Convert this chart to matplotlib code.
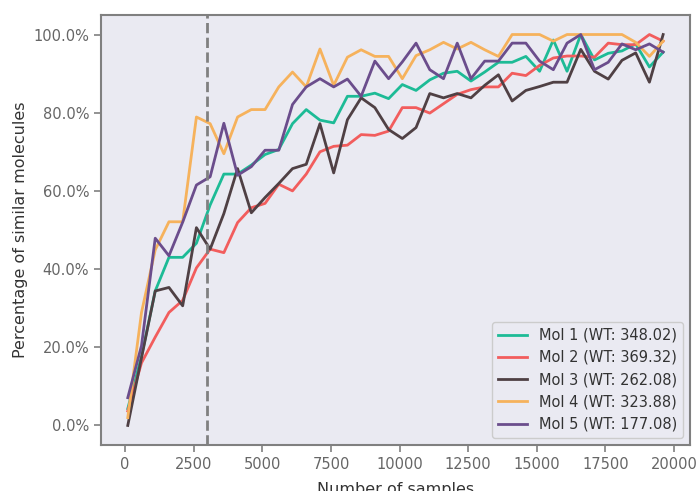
import numpy as np
import matplotlib
matplotlib.use('Agg')
import matplotlib.pyplot as plt
from matplotlib.ticker import PercentFormatter

# sample counts (x axis)
samples = np.arange(100, 20000, 500)

# percentage of similar molecules per molecule (in %)
mol1 = [4.3, 17.7, 34.4, 43.0, 43.0, 46.6, 56.4, 64.3, 64.3, 66.6, 69.3, 70.6, 77.2, 80.8, 78.1, 77.4, 84.2, 84.2, 85.0, 83.6,
        87.2, 85.7, 88.4, 90.1, 90.6, 88.1, 90.4, 92.9, 92.9, 94.4, 90.6, 98.6, 90.6, 100.0, 93.5, 95.2, 95.8, 97.6, 91.7, 95.5]
mol2 = [3.7, 16.0, 22.6, 28.9, 32.0, 40.3, 45.1, 44.2, 51.9, 55.7, 56.8, 61.7, 60.0, 64.3, 70.0, 71.4, 71.7, 74.4, 74.2, 75.3,
        81.3, 81.3, 79.9, 82.3, 84.7, 85.9, 86.6, 86.6, 90.1, 89.5, 92.1, 94.0, 94.5, 94.5, 94.2, 97.8, 97.4, 97.4, 100.0, 98.3]
mol3 = [0.0, 17.3, 34.4, 35.3, 30.6, 50.6, 45.1, 54.2, 65.7, 54.4, 58.3, 61.9, 65.7, 66.8, 77.2, 64.6, 78.2, 83.8, 81.3, 75.7,
        73.4, 76.2, 84.9, 83.8, 84.9, 83.8, 87.0, 89.7, 83.0, 85.7, 86.7, 87.8, 87.8, 96.2, 90.6, 88.6, 93.4, 95.3, 87.8, 100.0]
mol4 = [2.0, 28.9, 44.9, 52.1, 52.1, 78.9, 77.2, 69.5, 78.9, 80.8, 80.8, 86.6, 90.4, 86.6, 96.3, 87.0, 94.2, 96.1, 94.4, 94.4,
        88.7, 94.6, 96.1, 98.0, 96.3, 98.0, 96.1, 94.4, 100.0, 100.0, 100.0, 98.3, 100.0, 100.0, 100.0, 100.0, 100.0, 98.0, 94.4, 98.3]
mol5 = [7.1, 20.4, 47.9, 43.4, 52.0, 61.5, 63.6, 77.3, 64.0, 66.2, 70.4, 70.4, 82.1, 86.6, 88.7, 86.6, 88.6, 84.2, 93.2, 88.7,
        93.0, 97.8, 91.0, 88.7, 97.8, 88.7, 93.2, 93.2, 97.8, 97.8, 93.2, 91.0, 97.8, 100.0, 91.0, 92.9, 97.6, 96.1, 97.6, 95.5]

labels = ['Mol 1 (WT: 348.02)', 'Mol 2 (WT: 369.32)', 'Mol 3 (WT: 262.08)',
          'Mol 4 (WT: 323.88)', 'Mol 5 (WT: 177.08)']
series = [mol1, mol2, mol3, mol4, mol5]
colors = ['#1dbb96', '#f25d5d', '#4f4044', '#f6b25c', '#6b4d8c']
threshold = 3000

fig = plt.figure(figsize=(6.99, 4.91), dpi=100)
ax = fig.add_axes([0.1445, 0.0937, 0.8425, 0.8758])
ax.set_facecolor('#eaeaf2')

for vals, lab, col in zip(series, labels, colors):
    ax.plot(samples, np.array(vals) / 100.0, color=col, lw=2, label=lab)

ax.axvline(threshold, color='#808080', ls='--', lw=2)

ax.set_xticks([0, 2500, 5000, 7500, 10000, 12500, 15000, 17500, 20000])
ax.set_yticks([0, 0.2, 0.4, 0.6, 0.8, 1.0])
ax.yaxis.set_major_formatter(PercentFormatter(xmax=1, decimals=1))

for sp in ax.spines.values():
    sp.set_color('#808080')
    sp.set_linewidth(1.5)
ax.tick_params(colors='#808080', labelcolor='#666666', labelsize=10.5, length=5, width=1.2)

ax.set_xlabel('Number of samples', fontsize=11.5, color='#333333', labelpad=7)
ax.set_ylabel('Percentage of similar molecules', fontsize=11.5, color='#333333')

leg = ax.legend(loc='lower right', fontsize=10.5, facecolor='#eaeaf2', edgecolor='#cccccc', framealpha=1)
for t in leg.get_texts():
    t.set_color('#333333')

fig.savefig('out.png', dpi=100)
